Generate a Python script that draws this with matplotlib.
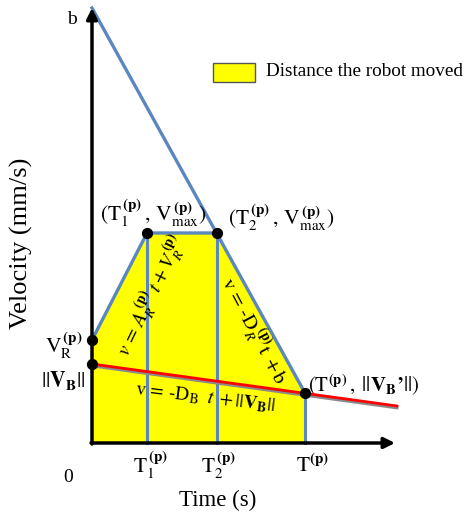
import matplotlib
matplotlib.use("Agg")
import matplotlib.pyplot as plt
from matplotlib.patches import Rectangle, Polygon

plt.rcParams['font.family'] = ['Liberation Serif', 'DejaVu Serif']
plt.rcParams['mathtext.fontset'] = 'stix'

# key times (abstract units) and velocities
t_names = ['T1', 'T2', 'T']
t_vals = [55, 125, 213]
v_b = 435          # intercept b of decel line
v_r = 103          # V_R^(p)
v_max = 210        # V_max^(p)
v_B = 79           # ||V_B||
v_B_end = 50       # ||V_B'|| at T
t_red_end = 305
v_red_end = 37

fig = plt.figure(figsize=(4.66, 5.19), dpi=100)
ax = fig.add_axes([0, 0, 1, 1])
ax.set_xlim(-92, 374)
ax.set_ylim(-76, 443)
ax.axis('off')

T1, T2, T = t_vals
blue = '#5B87C0'

# yellow area
poly = Polygon([(0, 0), (0, v_r), (T1, v_max), (T2, v_max), (T, v_B_end), (T, 0)],
               closed=True, facecolor='#FFFF00', edgecolor='none', zorder=1)
ax.add_patch(poly)

# vertical lines
for tv, top in zip(t_vals, [v_max, v_max, v_B_end]):
    ax.plot([tv, tv], [0, top], color=blue, lw=2.2, zorder=2)

# profile lines
ax.plot([0, T1, T2], [v_r, v_max, v_max], color=blue, lw=2.4, zorder=3)
ax.plot([0, T], [v_b, v_B_end], color=blue, lw=2.4, zorder=3)

# red line with gray shadow
ax.plot([0, t_red_end], [v_B - 2, v_red_end - 2], color='#8a8a8a', lw=2, zorder=3)
ax.plot([0, t_red_end], [v_B, v_red_end], color='#FF0000', lw=2, zorder=4)

# axes arrows
ax.annotate('', xy=(0, 435), xytext=(0, -1),
            arrowprops=dict(arrowstyle='-|>', color='black', lw=2.5, mutation_scale=16,
                            shrinkA=0, shrinkB=0), zorder=5)
ax.annotate('', xy=(303, 0), xytext=(-1, 0),
            arrowprops=dict(arrowstyle='-|>', color='black', lw=2.5, mutation_scale=16,
                            shrinkA=0, shrinkB=0), zorder=5)

# dots
ax.scatter([0, 0, T1, T2, T], [v_r, v_B, v_max, v_max, v_B_end], s=50, color='black', zorder=6)

fs = 15.5
ax.text(-20, 423, 'b', fontsize=14, ha='center', va='center')
ax.text(-24, -35, '0', fontsize=14, ha='center', va='center')
ax.text(T1 + 4, -22, r'$\mathrm{T}_1^{\,\mathbf{(p)}}$', fontsize=fs, ha='center', va='center')
ax.text(T2 + 2, -22, r'$\mathrm{T}_2^{\,\mathbf{(p)}}$', fontsize=fs, ha='center', va='center')
ax.text(T + 8, -22, r'$\mathrm{T}^{\mathbf{(p)}}$', fontsize=fs, ha='center', va='center')

ax.text(126, -57, 'Time (s)', fontsize=16.5, ha='center', va='center')
ax.text(-71, 200, 'Velocity (mm/s)', fontsize=19, ha='center', va='center', rotation=90)

ax.text(61, 230, r'$(\mathrm{T}_1^{\,\mathbf{(p)}}\,,\,\mathrm{V}_{\mathrm{max}}^{\,\mathbf{(p)}})$',
        fontsize=fs, ha='center', va='center')
ax.text(189, 226, r'$(\mathrm{T}_2^{\,\mathbf{(p)}}\,,\,\mathrm{V}_{\mathrm{max}}^{\,\mathbf{(p)}})$',
        fontsize=fs, ha='center', va='center')
ax.text(-28, 98, r'$\mathrm{V}_{\mathrm{R}}^{\,\mathbf{(p)}}$', fontsize=fs, ha='center', va='center')
ax.text(-29, 62, r'$||\mathbf{V}_{\mathbf{B}}||$', fontsize=fs, ha='center', va='center')
ax.text(272, 58, r"$(\mathrm{T}^{\mathbf{(p)}}\,,\;||\mathbf{V}_{\mathbf{B}}\mathbf{’}||)$",
        fontsize=15, ha='center', va='center')

ax.text(59, 148, r'$v\,=\,A_R^{\,\mathbf{(p)}}\;t + V_R^{\,\mathbf{(p)}}$', fontsize=14.5,
        ha='center', va='center', rotation=64)
ax.text(163, 113, r'$\mathrm{v}\,=\,\text{-}\mathrm{D}_R^{\ \mathbf{(p)}}\mathrm{t}\;+\mathrm{b}$', fontsize=14.5,
        ha='center', va='center', rotation=-62)
ax.text(113, 45, r'$\mathrm{v}\,=\,\text{-}\mathrm{D}_{\mathrm{B}}\;\;t\;+||\mathbf{V}_{\mathbf{B}}||$', fontsize=14,
        ha='center', va='center', rotation=-7)

# legend
ax.add_patch(Rectangle((121, 361), 42, 19, facecolor='#FFFF00', edgecolor='#555555', lw=1, zorder=5))
ax.text(174, 372, 'Distance the robot moved', fontsize=13.8, ha='left', va='center')

fig.savefig('out.png', dpi=100)
